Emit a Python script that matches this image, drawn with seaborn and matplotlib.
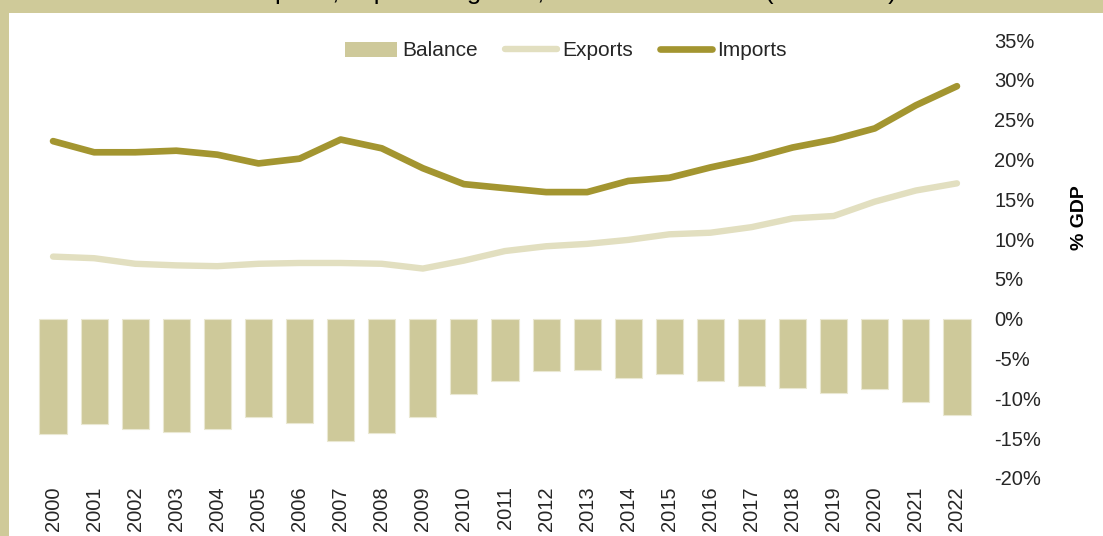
import numpy as np
import pandas as pd
import matplotlib
matplotlib.use("Agg")
import matplotlib.pyplot as plt
from matplotlib.patches import Rectangle, Patch
from matplotlib.lines import Line2D
from matplotlib.ticker import FuncFormatter
import seaborn as sns

# Goods trade as a share of GDP
years = list(range(2000, 2023))
balance = [-14.5, -13.2, -13.8, -14.2, -13.9, -12.4, -13.1, -15.3, -14.3, -12.4, -9.5, -7.8,
           -6.6, -6.4, -7.4, -6.9, -7.8, -8.4, -8.7, -9.3, -8.8, -10.5, -12.1]
exports = [7.8, 7.6, 6.9, 6.7, 6.6, 6.9, 7.0, 7.0, 6.9, 6.3, 7.3, 8.5,
           9.1, 9.4, 9.9, 10.6, 10.8, 11.5, 12.6, 12.9, 14.7, 16.1, 17.0]
imports = [22.3, 20.9, 20.9, 21.1, 20.6, 19.5, 20.1, 22.5, 21.4, 18.9, 16.9, 16.4,
           15.9, 15.9, 17.3, 17.7, 19.0, 20.1, 21.5, 22.5, 23.9, 26.8, 29.2]
title = "Exports, imports of goods, and trade balance (% of GDP)"

df = pd.DataFrame({"Year": years, "Balance": balance, "Exports": exports, "Imports": imports})

sns.set_theme(style="white")
plt.rcParams["font.family"] = ["Liberation Sans", "DejaVu Sans"]

FRAME = "#CFCA99"
BAR = "#CEC99A"
EXP = "#E2DFC0"
IMP = "#A39530"

W, H = 1103, 536
fig = plt.figure(figsize=(W / 100, H / 100), dpi=100, facecolor=FRAME)

# white panel inside the tan frame
panel = Rectangle((9 / W, 0), 1 - 9 / W, 1 - 13 / H, transform=fig.transFigure,
                  facecolor="white", edgecolor="none", zorder=-5)
fig.patches.append(panel)

ax = fig.add_axes([32.5 / W, 1 - 478 / H, 945 / W, 438 / H])
ax.set_facecolor("none")
ax.set_zorder(2)

sns.barplot(data=df, x="Year", y="Balance", native_scale=True, width=0.66, color=BAR,
            saturation=1, edgecolor="#EAE8D2", linewidth=0.8, ax=ax, zorder=2)
sns.lineplot(data=df, x="Year", y="Exports", color=EXP, linewidth=4.6, ax=ax,
             solid_capstyle="round", solid_joinstyle="round", zorder=3)
sns.lineplot(data=df, x="Year", y="Imports", color=IMP, linewidth=4.8, ax=ax,
             solid_capstyle="round", solid_joinstyle="round", zorder=4)

ax.set_xlim(1999.5, 2022.5)
ax.set_ylim(-20, 35)
ax.set_xticks(years)
ax.set_xticklabels([str(y) for y in years], rotation=90, fontsize=14.5, va="top")
ax.set_yticks(np.arange(-20, 36, 5))
ax.yaxis.set_major_formatter(FuncFormatter(lambda v, p: f"{v:.0f}%"))
ax.yaxis.tick_right()
ax.tick_params(axis="y", labelsize=14.5, length=0, pad=12)
ax.tick_params(axis="x", length=0, pad=6)
ax.set_xlabel("")
ax.set_ylabel("")
for s in ax.spines.values():
    s.set_visible(False)
ax.grid(False)

fig.text(1080 / W, 1 - 218 / H, "% GDP", rotation=90, ha="center", va="center",
         fontsize=14, fontweight="bold", color="black")

fig.text(571 / W, 1 + 0.5 / H, title, ha="center", va="baseline", fontsize=18.5, color="black")

handles = [
    Patch(facecolor=BAR, edgecolor="none", label="Balance"),
    Line2D([], [], color=EXP, linewidth=4.6, solid_capstyle="round", label="Exports"),
    Line2D([], [], color=IMP, linewidth=4.8, solid_capstyle="round", label="Imports"),
]
fig.legend(handles=handles, loc="center", bbox_to_anchor=(566 / W, 1 - 51 / H), ncol=3,
           frameon=False, fontsize=15, handlelength=2.5, handletextpad=0.25,
           columnspacing=1.3, handleheight=0.7)

fig.savefig("out.png", dpi=100, facecolor=FRAME)
